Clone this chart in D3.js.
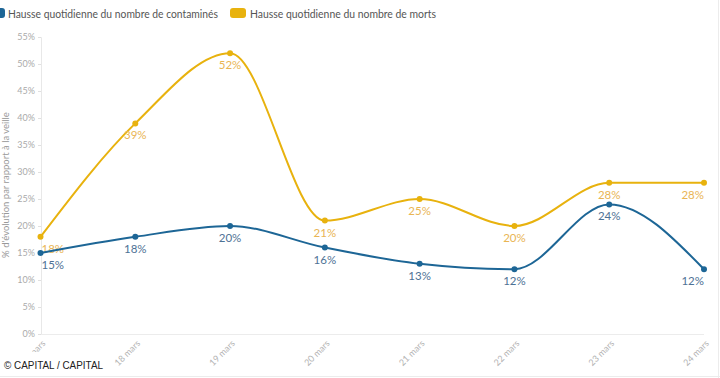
<!DOCTYPE html>
<html><head><meta charset="utf-8">
<script src="https://cdn.jsdelivr.net/npm/d3@7"></script>
<style>
html,body{margin:0;padding:0;background:#fff;}
svg{display:block;}
</style></head>
<body>
<svg id="chart" width="720" height="378"></svg>
<script>
const categories = ["17 mars","18 mars","19 mars","20 mars","21 mars","22 mars","23 mars","24 mars"];
const contamines = [15,18,20,16,13,12,24,12];
const morts = [18,39,52,21,25,20,28,28];
const yTicks = [0,5,10,15,20,25,30,35,40,45,50,55];
const seriesNames = ["Hausse quotidienne du nombre de contaminés","Hausse quotidienne du nombre de morts"];
const yTitle = "% d'évolution par rapport à la veille";
const credit = "© CAPITAL / CAPITAL";

const blue = "#1d6696", yellow = "#e8b20e";
const blueLbl = "#4e7295", yellowLbl = "#e9b554";
const font = "Lato, 'Source Sans Pro', sans-serif";

const svg = d3.select("#chart");
const x = d3.scalePoint().domain(categories).range([40.5, 704]);
const y = d3.scaleLinear().domain([0,55]).range([334, 37]);

// frame lines
svg.append("line").attr("x1",718.5).attr("x2",718.5).attr("y1",0).attr("y2",378).attr("stroke","#ececec");
svg.append("line").attr("x1",0).attr("x2",720).attr("y1",376.5).attr("y2",376.5).attr("stroke","#ececec");

// y axis
const yAxis = svg.append("g").attr("transform","translate(41,0)")
  .call(d3.axisLeft(y).tickValues(yTicks).tickFormat(d=>d+"%").tickSize(3).tickPadding(3));
yAxis.select(".domain").attr("stroke","#e8e8e8");
yAxis.selectAll(".tick line").attr("stroke","#e0e0e0");
yAxis.selectAll("text").attr("fill","#aaa").style("font-family",font).style("font-size","9px");

// baseline
svg.append("line").attr("x1",41).attr("x2",704).attr("y1",y(0)+0.5).attr("y2",y(0)+0.5).attr("stroke","#ececec");

// x axis labels
const xAxis = svg.append("g").attr("transform","translate(0,"+y(0)+")")
  .call(d3.axisBottom(x).tickSize(0).tickPadding(0));
xAxis.select(".domain").remove();
xAxis.selectAll("text")
  .attr("fill","#b3b3b3").style("font-family",font).style("font-size","9px")
  .attr("text-anchor","end").attr("dy",null).attr("y",0)
  .attr("transform","translate(5,10) rotate(-45)");

// y title
svg.append("text").attr("transform","translate(9,185) rotate(-90)")
  .attr("text-anchor","middle").attr("fill","#999").style("font-family",font).style("font-size","9.5px")
  .text(yTitle);

const line = d3.line().x((d,i)=>x(categories[i])).y(d=>y(d)).curve(d3.curveMonotoneX);

function drawSeries(vals,color,lblColor){
  svg.append("path").datum(vals).attr("d",line).attr("fill","none").attr("stroke",color).attr("stroke-width",2);
  svg.append("g").selectAll("circle").data(vals).join("circle")
    .attr("cx",(d,i)=>x(categories[i])).attr("cy",d=>y(d)).attr("r",3).attr("fill",color);
  svg.append("g").selectAll("text").data(vals).join("text")
    .attr("x",(d,i)=> i===0 ? x(categories[i])+1 : x(categories[i]))
    .attr("y",d=>y(d)+16)
    .attr("text-anchor",(d,i)=> i===0 ? "start" : (i===vals.length-1 ? "end" : "middle"))
    .attr("fill",lblColor).style("font-family",font).style("font-size","11.5px")
    .text(d=>d+"%");
}
drawSeries(morts,yellow,yellowLbl);
drawSeries(contamines,blue,blueLbl);

// legend
const leg = svg.append("g");
leg.append("rect").attr("x",-6).attr("y",8).attr("width",11).attr("height",10).attr("rx",3).attr("fill",blue);
leg.append("text").attr("x",8).attr("y",17.5).attr("fill","#555").style("font-family",font).style("font-size","10.5px")
  .attr("textLength",210).attr("lengthAdjust","spacingAndGlyphs").text(seriesNames[0]);
leg.append("rect").attr("x",230).attr("y",8).attr("width",16).attr("height",10).attr("rx",3).attr("fill",yellow);
leg.append("text").attr("x",250).attr("y",17.5).attr("fill","#555").style("font-family",font).style("font-size","10.5px")
  .attr("textLength",186).attr("lengthAdjust","spacingAndGlyphs").text(seriesNames[1]);

// credit box
svg.append("rect").attr("x",0).attr("y",352).attr("width",107).attr("height",23).attr("fill","#fff");
svg.append("text").attr("x",4).attr("y",369).attr("fill","#222").style("font-family","Liberation Sans, Arial, sans-serif").style("font-size","10.5px")
  .attr("textLength",99).attr("lengthAdjust","spacingAndGlyphs").text(credit);
</script>
</body></html>
